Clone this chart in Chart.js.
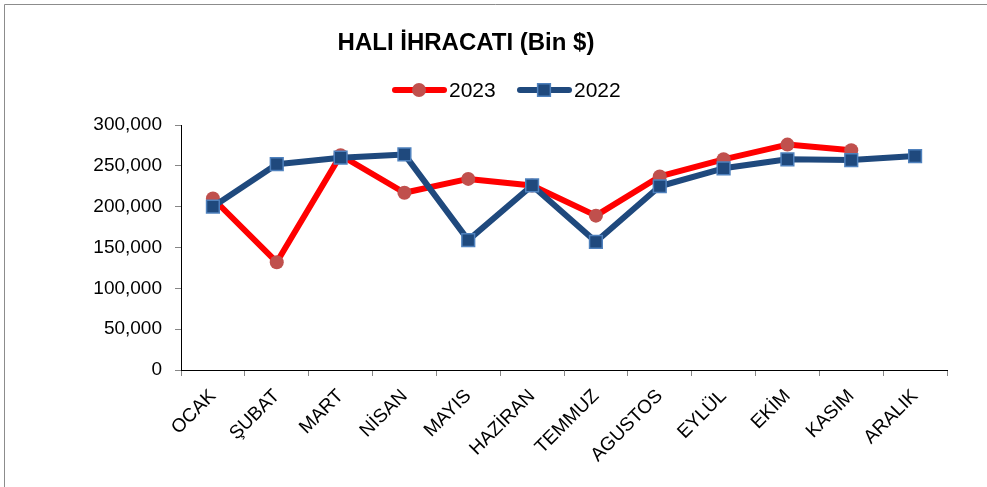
<!DOCTYPE html>
<html>
<head>
<meta charset="utf-8">
<style>
  html, body { margin: 0; padding: 0; background: #fff; }
  #wrap { position: relative; width: 987px; height: 487px; }
</style>
</head>
<body>
<div id="wrap"><canvas id="hali-chart" width="987" height="487"></canvas></div>

<script src="https://cdn.jsdelivr.net/npm/chart.js@4.4.1/dist/chart.umd.min.js"></script>
<script>
  const months = ['OCAK', 'ŞUBAT', 'MART', 'NİSAN', 'MAYIS', 'HAZİRAN', 'TEMMUZ', 'AGUSTOS', 'EYLÜL', 'EKİM', 'KASIM', 'ARALIK'];
  const exports2023 = [210000, 132000, 263000, 217000, 234000, 226000, 189000, 237000, 258000, 276000, 269000, null];
  const exports2022 = [200000, 252000, 260000, 264000, 159000, 226000, 157000, 225000, 247000, 258000, 257000, 262000];
  const yTicks = [0, 50000, 100000, 150000, 200000, 250000, 300000];

  const chartTitle = 'HALI İHRACATI (Bin $)';
  const fontFamily = '"Liberation Sans", Arial, Helvetica, sans-serif';

  // frame, title and the line+marker legend of the original sheet
  const sheetDecor = {
    id: 'sheetDecor',
    beforeDraw(chart) {
      const ctx = chart.ctx;
      ctx.save();
      ctx.fillStyle = '#fff';
      ctx.fillRect(0, 0, chart.width, chart.height);
      ctx.strokeStyle = '#8c8c8c';
      ctx.lineWidth = 1;
      ctx.beginPath();
      ctx.moveTo(4.5, chart.height);
      ctx.lineTo(4.5, 4.5);
      ctx.lineTo(chart.width, 4.5);
      ctx.stroke();
      ctx.restore();
    },
    afterDraw(chart) {
      const ctx = chart.ctx;
      ctx.save();
      ctx.fillStyle = '#000';
      ctx.textBaseline = 'middle';
      ctx.textAlign = 'center';
      ctx.font = 'bold 24px ' + fontFamily;
      ctx.fillText(chartTitle, 466, 43);

      const items = [
        { ds: chart.data.datasets[0], x: 393 },
        { ds: chart.data.datasets[1], x: 518 },
      ];
      const y = 90;
      ctx.font = '21px ' + fontFamily;
      ctx.textAlign = 'left';
      items.forEach(({ ds, x }) => {
        ctx.strokeStyle = ds.borderColor;
        ctx.lineWidth = 6;
        ctx.lineCap = 'round';
        ctx.beginPath();
        ctx.moveTo(x + 2, y);
        ctx.lineTo(x + 51, y);
        ctx.stroke();
        ctx.fillStyle = ds.pointBackgroundColor;
        ctx.strokeStyle = ds.pointBorderColor;
        ctx.lineWidth = ds.pointBorderWidth;
        ctx.beginPath();
        if (ds.pointStyle === 'circle') {
          ctx.arc(x + 26, y, ds.pointRadius, 0, Math.PI * 2);
        } else {
          const h = ds.pointRadius * Math.SQRT1_2;
          ctx.rect(x + 26 - h, y - h, 2 * h, 2 * h);
        }
        ctx.fill();
        if (ds.pointBorderWidth) ctx.stroke();
        ctx.fillStyle = '#000';
        ctx.fillText(ds.label, x + 56, y + 1);
      });
      ctx.restore();
    },
  };

  new Chart(document.getElementById('hali-chart'), {
    type: 'line',
    data: {
      labels: months,
      datasets: [
        {
          label: '2023',
          data: exports2023,
          borderColor: '#ff0000',
          borderWidth: 6,
          borderJoinStyle: 'round',
          pointStyle: 'circle',
          pointRadius: 7,
          pointBackgroundColor: '#c0504d',
          pointBorderColor: '#c0504d',
          pointBorderWidth: 0,
          order: 2,
        },
        {
          label: '2022',
          data: exports2022,
          borderColor: '#1f497d',
          borderWidth: 6,
          borderJoinStyle: 'round',
          pointStyle: 'rect',
          pointRadius: 9,
          pointBackgroundColor: '#1f497d',
          pointBorderColor: '#4f81bd',
          pointBorderWidth: 1.5,
          order: 1,
        },
      ],
    },
    options: {
      responsive: false,
      animation: false,
      layout: { padding: { top: 125, right: 40, left: 0, bottom: 0 } },
      plugins: {
        legend: { display: false },
        title: { display: false },
        tooltip: { enabled: false },
      },
      scales: {
        x: {
          offset: true,
          grid: {
            offset: true,
            drawOnChartArea: false,
            tickLength: 6,
            color: '#868686',
          },
          border: { color: '#000', width: 1 },
          ticks: {
            color: '#000',
            font: { family: fontFamily, size: 19 },
            minRotation: 45,
            maxRotation: 45,
            padding: 9,
            autoSkip: false,
          },
          afterFit: (s) => { s.height = 117; },
        },
        y: {
          min: 0,
          max: 300000,
          afterBuildTicks: (s) => { s.ticks = yTicks.map((v) => ({ value: v })); },
          grid: {
            drawOnChartArea: false,
            tickLength: 6,
            color: '#868686',
          },
          border: { color: '#000', width: 1 },
          ticks: {
            color: '#000',
            font: { family: fontFamily, size: 19 },
            padding: 13,
            callback: (v) => v.toLocaleString('en-US'),
          },
          afterFit: (s) => { s.width = 181; },
        },
      },
    },
    plugins: [sheetDecor],
  });
</script>
</body>
</html>
